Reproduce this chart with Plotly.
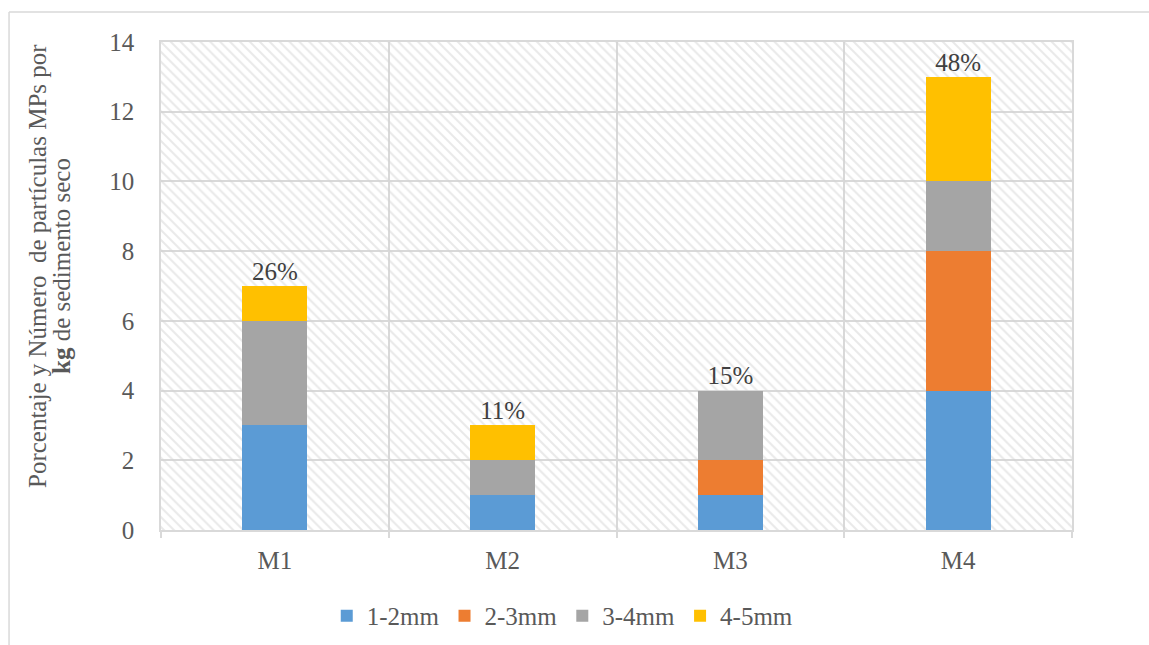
import plotly.graph_objects as go

categories = ["M1", "M2", "M3", "M4"]
series_names = ["1-2mm", "2-3mm", "3-4mm", "4-5mm"]
v_1_2 = [3, 1, 1, 4]
v_2_3 = [0, 0, 1, 4]
v_3_4 = [3, 1, 2, 2]
v_4_5 = [1, 1, 0, 3]
pct_labels = ["26%", "11%", "15%", "48%"]
colors = ["#5B9BD5", "#ED7D31", "#A5A5A5", "#FFC000"]
y_ticks = [0, 2, 4, 6, 8, 10, 12, 14]
title_line1 = "Porcentaje y Número  de partículas MPs por"
title_line2 = "<b>kg</b> de sedimento seco"

FONT = "Liberation Serif, Times New Roman, serif"
GRID = "#d9d9d9"
FS = 25

fig = go.Figure()

# hatched background of plot area (decorative)
fig.add_trace(go.Bar(
    x=[0.5], y=[1], width=[1], xaxis="x", yaxis="y",
    marker=dict(color="rgba(0,0,0,0)", line=dict(width=0),
                pattern=dict(shape="\\", fgcolor="#d4d4d4", bgcolor="rgba(0,0,0,0)",
                             size=7, solidity=0.3)),
    showlegend=False, hoverinfo="skip",
))

series_vals = [v_1_2, v_2_3, v_3_4, v_4_5]
for name, vals, col in zip(series_names, series_vals, colors):
    fig.add_trace(go.Bar(
        x=categories, y=vals, name=name, xaxis="x2", yaxis="y2",
        marker=dict(color=col, line=dict(width=0)),
    ))

totals = [sum(t) for t in zip(*series_vals)]
fig.add_trace(go.Scatter(
    x=categories, y=totals, text=pct_labels, mode="text",
    textposition="top center", xaxis="x2", yaxis="y2",
    textfont=dict(family=FONT, size=FS, color="#404040"),
    showlegend=False, cliponaxis=False, hoverinfo="skip",
))

fig.update_layout(
    width=1149, height=645,
    margin=dict(l=161, r=77, t=42, b=115, autoexpand=False),
    paper_bgcolor="white", plot_bgcolor="white",
    barmode="stack", bargap=0.715,
    font=dict(family=FONT, size=FS, color="#595959"),
    xaxis=dict(range=[0, 1], visible=False, fixedrange=True),
    yaxis=dict(range=[0, 1], visible=False, fixedrange=True),
    xaxis2=dict(overlaying="x", type="category", side="bottom", automargin=False,
                showgrid=True, gridcolor=GRID, gridwidth=1.5,
                tickson="boundaries", ticks="outside", ticklen=6, tickcolor=GRID, tickwidth=1.5,
                showline=True, linecolor=GRID, linewidth=1.5, mirror=True,
                ticklabelstandoff=7,
                tickfont=dict(size=FS, color="#595959")),
    yaxis2=dict(overlaying="y", side="left", range=[0, 14], tickvals=y_ticks, automargin=False,
                showgrid=True, gridcolor=GRID, gridwidth=1.5, zeroline=False,
                showline=True, linecolor=GRID, linewidth=1.5, mirror=True,
                ticks="", ticklabelstandoff=20,
                tickfont=dict(size=FS, color="#595959")),
    legend=dict(orientation="h", x=0.441, xanchor="center", y=-0.176, yanchor="middle",
                font=dict(size=FS, color="#595959"), traceorder="normal",
                itemwidth=30, bgcolor="rgba(0,0,0,0)"),
    annotations=[
        dict(text=title_line1, xref="paper", yref="paper", x=-0.135, y=0.541,
             textangle=-90, showarrow=False, xanchor="center", yanchor="middle",
             font=dict(size=FS, color="#595959")),
        dict(text=title_line2, xref="paper", yref="paper", x=-0.1087, y=0.541,
             textangle=-90, showarrow=False, xanchor="center", yanchor="middle",
             font=dict(size=FS, color="#595959")),
    ],
    shapes=[
        dict(type="line", xref="paper", yref="paper", x0=-0.1668, x1=1.1, y0=1.0615, y1=1.0615,
             line=dict(color=GRID, width=1.5)),
        dict(type="line", xref="paper", yref="paper", x0=-0.1668, x1=-0.1668, y0=1.0615, y1=-0.25,
             line=dict(color=GRID, width=1.5)),
    ],
)

fig.write_html("out.html")
